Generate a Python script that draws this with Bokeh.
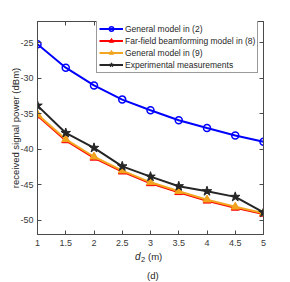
from bokeh.plotting import figure
from bokeh.models import LinearAxis, FixedTicker, Range1d, Div
from bokeh.layouts import column
from bokeh.embed import file_html
from bokeh.resources import INLINE

# ---- data ----
d2 = [1, 1.5, 2, 2.5, 3, 3.5, 4, 4.5, 5]
general_model_2 = [-25.2, -28.5, -31.0, -33.0, -34.5, -35.9, -37.0, -38.05, -38.95]
farfield_model_8 = [-35.25, -38.75, -41.2, -43.15, -44.8, -46.05, -47.25, -48.25, -49.1]
general_model_9 = [-35.1, -38.6, -41.05, -43.0, -44.65, -45.9, -47.1, -48.1, -49.0]
experimental = [-33.85, -37.7, -39.8, -42.4, -43.85, -45.2, -45.9, -46.7, -48.9]

x_ticks = [1, 1.5, 2, 2.5, 3, 3.5, 4, 4.5, 5]
x_tick_labels = ["1", "1.5", "2", "2.5", "3", "3.5", "4", "4.5", "5"]
y_ticks = [-50, -45, -40, -35, -30, -25]
y_tick_labels = ["-50", "-45", "-40", "-35", "-30", "-25"]

labels = ["General model in (2)", "Far-field beamforming model in (8)",
          "General model in (9)", "Experimental measurements"]
y_label = "received signal power (dBm)"
x_label_var, x_label_sub, x_label_unit = "d", "2", "(m)"
panel_tag = "(d)"

FONT = "Liberation Sans"
AX = "#4a4a4a"

p = figure(width=290, height=252, output_backend="svg", toolbar_location=None,
           x_range=Range1d(1, 5), y_range=Range1d(-52, -22),
           min_border_left=37, min_border_right=27, min_border_top=21,
           min_border_bottom=18, x_axis_location=None, y_axis_location=None)
p.xgrid.visible = False
p.ygrid.visible = False
p.outline_line_color = AX
p.outline_line_width = 1
p.background_fill_color = "white"
p.border_fill_color = "white"


def style_axis(ax, ticks, tick_labels, show_labels):
    ax.ticker = FixedTicker(ticks=ticks)
    ax.minor_tick_line_color = None
    ax.major_tick_in = 4
    ax.major_tick_out = 0
    ax.major_tick_line_color = AX
    ax.axis_line_color = AX
    ax.major_label_overrides = {t: l for t, l in zip(ticks, tick_labels)}
    ax.major_label_text_font = FONT
    ax.major_label_text_font_size = "9px"
    ax.major_label_text_color = "#3a3a3a" if show_labels else None
    ax.major_label_standoff = 4


bx = LinearAxis()
style_axis(bx, x_ticks, x_tick_labels, True)
bx.major_label_standoff = 5
p.add_layout(bx, "below")
tx = LinearAxis()
style_axis(tx, x_ticks, x_tick_labels, False)
p.add_layout(tx, "above")
ly = LinearAxis(axis_label=y_label)
style_axis(ly, y_ticks, y_tick_labels, True)
ly.axis_label_text_font = FONT
ly.axis_label_text_font_size = "9.5px"
ly.axis_label_text_font_style = "normal"
ly.axis_label_text_color = "#262626"
ly.axis_label_standoff = -4
p.add_layout(ly, "left")
ry = LinearAxis()
style_axis(ry, y_ticks, y_tick_labels, False)
p.add_layout(ry, "right")

# ---- series ----
p.line(d2, general_model_2, line_color="#0000FF", line_width=2, legend_label=labels[0])
p.scatter(d2, general_model_2, marker="circle", size=7, line_color="#0000FF",
          fill_color=None, line_width=1.5, legend_label=labels[0])

p.line(d2, farfield_model_8, line_color="#FF0000", line_width=2, legend_label=labels[1])
p.scatter(d2, farfield_model_8, marker="triangle", size=8, line_color="#FF0000",
          fill_color="#FF0000", line_width=1, legend_label=labels[1])

p.line(d2, general_model_9, line_color="#F2A51E", line_width=2, legend_label=labels[2])
p.scatter(d2, general_model_9, marker="triangle", size=8, line_color="#F2A51E",
          fill_color="#F2A51E", line_width=1, legend_label=labels[2])

p.line(d2, experimental, line_color="#262626", line_width=2, legend_label=labels[3])
p.scatter(d2, experimental, marker="star", size=10, line_color="#262626",
          fill_color="#262626", line_width=1, legend_label=labels[3])

leg = p.legend[0]
leg.location = (59, 161)
leg.label_text_font = FONT
leg.label_text_font_size = "8.5px"
leg.label_text_color = "#262626"
leg.glyph_width = 24
leg.glyph_height = 11
leg.label_height = 11
leg.label_standoff = 2
leg.spacing = 1
leg.padding = 2
leg.margin = 0
leg.border_line_color = "#333333"
leg.border_line_width = 1
leg.background_fill_color = "white"
leg.background_fill_alpha = 1

# ---- x-axis label (italic d with subscript) and panel tag, as HTML text ----
html = (
    '<div style="position:relative;width:290px;height:30px;'
    'font-family:\'Liberation Sans\';color:#262626;">'
    f'<span style="position:absolute;left:135px;top:0px;font-size:10px;line-height:10px;'
    f'font-style:italic;">{x_label_var}</span>'
    f'<span style="position:absolute;left:141px;top:4px;font-size:7.5px;line-height:8px;">'
    f'{x_label_sub}</span>'
    f'<span style="position:absolute;left:148px;top:0px;font-size:9.5px;line-height:10px;">'
    f'{x_label_unit}</span>'
    f'<span style="position:absolute;left:147px;top:19px;font-size:9.5px;line-height:10px;">'
    f'{panel_tag}</span>'
    '</div>'
)
div = Div(text=html, width=290, height=30, margin=(0, 0, 0, 0))

layout = column(p, div, spacing=0)
open("out.html", "w").write(file_html(layout, INLINE))
